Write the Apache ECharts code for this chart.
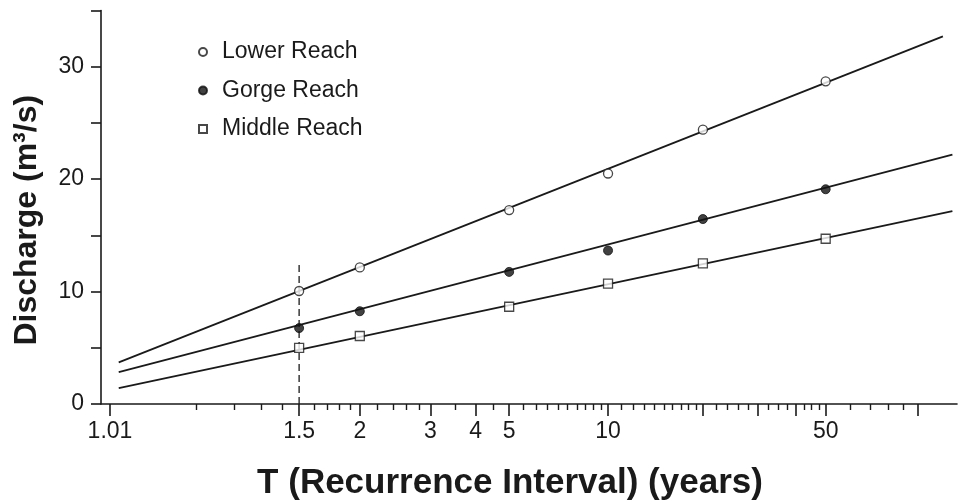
<!DOCTYPE html>
<html><head><meta charset="utf-8">
<script src="https://cdn.jsdelivr.net/npm/echarts@6/dist/echarts.min.js"></script>
<style>html,body{margin:0;padding:0;background:#fff}#c{width:958px;height:500px}</style>
</head><body><div id="c"></div>
<script>
// ---- data ----
const recurrenceT = [1.5, 2, 5, 10, 20, 50];
const lowerQ  = [10.05, 12.15, 17.25, 20.5, 24.4, 28.7];
const gorgeQ  = [6.75, 8.25, 11.75, 13.65, 16.45, 19.1];
const middleQ = [5.0, 6.05, 8.65, 10.7, 12.5, 14.7];

const lowerFitT  = [1.0135, 121];
const lowerFitQ  = [3.7, 32.7];
const gorgeFitT  = [1.0135, 130];
const gorgeFitQ  = [2.84, 22.18];
const middleFitT = [1.0135, 130];
const middleFitQ = [1.42, 17.15];

const dashT = 1.5;
const dashQ = [0, 12.6];

const labelT     = [1.01, 1.5, 2, 3, 4, 5, 10, 50];
const labelText  = ['1.01', '1.5', '2', '3', '4', '5', '10', '50'];
const majorTickT = [1.01, 1.5, 2, 3, 4, 5, 10, 20, 30, 40, 50, 100];
const minorTickT = [1.1, 1.2, 1.3, 1.4, 1.6, 1.7, 1.8, 1.9, 2.2, 2.4, 2.6, 2.8, 3.5, 4.5,
  5.5, 6, 6.5, 7, 7.5, 8, 8.5, 9, 9.5, 11, 12, 13, 14, 15, 16, 17, 18, 19,
  22, 24, 26, 28, 32.5, 35, 37.5, 42.5, 45, 47.5, 60, 70, 80, 90];
const axisMinT = 1.0072, axisMaxT = 134.6;

// Gumbel reduced variate (probability paper)
const g = T => -Math.log(-Math.log(1 - 1 / T));

const ink = '#1a1a1a';
const font = '"Liberation Sans", Arial, Helvetica, sans-serif';

const toPts = (ts, qs) => ts.map((t, i) => [g(t), qs[i]]);

const chart = echarts.init(document.getElementById('c'), null, {renderer: 'canvas'});
chart.setOption({
  animation: false,
  backgroundColor: '#fff',
  grid: {left: 101, right: 1, top: 10.5, bottom: 96, containLabel: false, outerBoundsMode: 'none'},
  legend: {
    data: ['Lower Reach', 'Gorge Reach', 'Middle Reach'],
    orient: 'vertical', left: 193, top: 35,
    itemWidth: 8, itemHeight: 8, itemGap: 14.5,
    textStyle: {fontSize: 23, lineHeight: 24, color: ink, fontFamily: font, padding: [0, 0, 0, 10]}
  },
  xAxis: [{
    type: 'value', position: 'bottom',
    min: g(axisMinT), max: g(axisMaxT),
    name: 'T (Recurrence Interval) (years)', nameLocation: 'middle', nameGap: 62,
    nameTextStyle: {fontSize: 35, fontWeight: 'bold', color: ink, fontFamily: font, padding: [0, 38, 0, 0]},
    axisLine: {show: true, onZero: false, lineStyle: {color: ink, width: 1.6}},
    axisTick: {show: true, length: 12, customValues: majorTickT.map(g), lineStyle: {color: ink, width: 1.6}},
    axisLabel: {
      show: true, customValues: labelT.map(g), margin: 16,
      fontSize: 23, color: ink, fontFamily: font,
      formatter: v => {
        const i = labelT.findIndex(t => Math.abs(g(t) - v) < 1e-6);
        return i >= 0 ? labelText[i] : '';
      }
    },
    splitLine: {show: false}
  }, {
    type: 'value', position: 'bottom',
    min: g(axisMinT), max: g(axisMaxT),
    axisLine: {show: false, onZero: false},
    axisTick: {show: true, length: 6, customValues: minorTickT.map(g), lineStyle: {color: ink, width: 1.4}},
    axisLabel: {show: false, customValues: minorTickT.map(g)},
    splitLine: {show: false}
  }],
  yAxis: {
    type: 'value', min: 0, max: 35, interval: 5,
    name: 'Discharge (m³/s)', nameLocation: 'middle', nameGap: 58,
    nameTextStyle: {fontSize: 32, fontWeight: 'bold', color: ink, fontFamily: font, padding: [0, 26, 0, 0]},
    axisLine: {show: true, onZero: false, lineStyle: {color: ink, width: 1.6}},
    axisTick: {show: true, length: 10, lineStyle: {color: ink, width: 1.6}},
    axisLabel: {
      margin: 17, fontSize: 23, color: ink, fontFamily: font,
      formatter: v => (v % 10 === 0 ? String(v) : '')
    },
    splitLine: {show: false}
  },
  series: [
    {name: 'Lower fit', type: 'line', data: toPts(lowerFitT, lowerFitQ), showSymbol: false, silent: true,
     lineStyle: {color: ink, width: 1.8}, z: 2},
    {name: 'Gorge fit', type: 'line', data: toPts(gorgeFitT, gorgeFitQ), showSymbol: false, silent: true,
     lineStyle: {color: ink, width: 1.8}, z: 2},
    {name: 'Middle fit', type: 'line', data: toPts(middleFitT, middleFitQ), showSymbol: false, silent: true,
     lineStyle: {color: ink, width: 1.8}, z: 2},
    {name: 'T=1.5 line', type: 'line', data: dashQ.map(q => [g(dashT), q]), showSymbol: false, silent: true,
     lineStyle: {color: ink, width: 1.3, type: [7, 4]}, z: 1},
    {name: 'Lower Reach', type: 'scatter', data: toPts(recurrenceT, lowerQ), symbol: 'circle', symbolSize: 9,
     itemStyle: {color: '#fff', borderColor: ink, borderWidth: 1.3}, z: 4},
    {name: 'Gorge Reach', type: 'scatter', data: toPts(recurrenceT, gorgeQ), symbol: 'circle', symbolSize: 9,
     itemStyle: {color: '#111', borderColor: '#111', borderWidth: 1}, z: 4},
    {name: 'Middle Reach', type: 'scatter', data: toPts(recurrenceT, middleQ), symbol: 'rect', symbolSize: 9,
     itemStyle: {color: '#fff', borderColor: ink, borderWidth: 1.3}, z: 4}
  ]
});
</script></body></html>
